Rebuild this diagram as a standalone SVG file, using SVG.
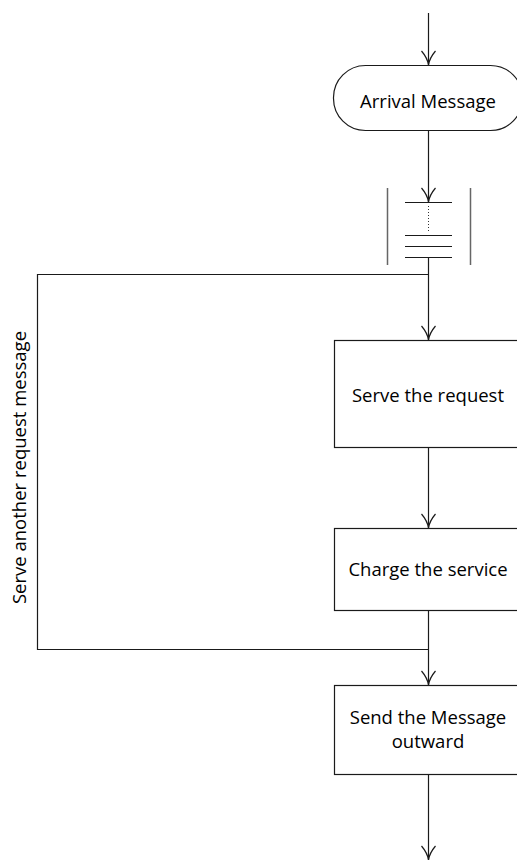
<svg xmlns="http://www.w3.org/2000/svg" width="517" height="862" viewBox="0 0 517 862">
<style>
.ln{fill:none;stroke:#1a1a1a;stroke-width:1.2}
.box{fill:#fff;stroke:#1a1a1a;stroke-width:1.2}
.t{font-family:"Open Sans",Lato,sans-serif;font-size:18.5px;fill:#000;text-anchor:middle}
</style>
<rect width="517" height="862" fill="#fff"/>
<g id="connectors">
<path class="ln" d="M428.5,13 V65"/>
<path class="ln" d="M421.5,51 Q427.5,58 428.5,65 Q429.5,58 435.5,51"/>
<path class="ln" d="M428.5,130 V202"/>
<path class="ln" d="M421.5,188 Q427.5,195 428.5,202 Q429.5,195 435.5,188"/>
<path class="ln" d="M428.5,257 V340"/>
<path class="ln" d="M421.5,326 Q427.5,333 428.5,340 Q429.5,333 435.5,326"/>
<path class="ln" d="M428.5,447 V528"/>
<path class="ln" d="M421.5,514 Q427.5,521 428.5,528 Q429.5,521 435.5,514"/>
<path class="ln" d="M428.5,610 V685"/>
<path class="ln" d="M421.5,671 Q427.5,678 428.5,685 Q429.5,678 435.5,671"/>
<path class="ln" d="M428.5,774 V860"/>
<path class="ln" d="M421.5,846 Q427.5,853 428.5,860 Q429.5,853 435.5,846"/>
<path class="ln" d="M428.5,274.5 H37.5 V649.5 H428.5"/>
</g>
<g id="arrival">
<rect class="box" x="333.5" y="65.5" width="189" height="65" rx="32" ry="32"/>
<text class="t" x="428" y="108">Arrival Message</text>
</g>
<g id="queue">
<path d="M387.5,188 V265 M470.5,188 V265" stroke="#666" stroke-width="1.5" fill="none"/>
<path class="ln" d="M405,202.5 H452 M405,235.5 H452 M405,246.5 H452 M405,257.5 H452"/>
<path d="M428.5,206 V231" stroke="#333" stroke-width="1" stroke-dasharray="1,2" fill="none"/>
</g>
<g id="serve">
<rect class="box" x="334.5" y="340.5" width="188" height="107"/>
<text class="t" x="428" y="402">Serve the request</text>
</g>
<g id="charge">
<rect class="box" x="334.5" y="528.5" width="188" height="82"/>
<text class="t" x="428" y="576">Charge the service</text>
</g>
<g id="send">
<rect class="box" x="334.5" y="685.5" width="188" height="89"/>
<text class="t" x="428" y="724">Send the Message</text>
<text class="t" x="428" y="748">outward</text>
</g>
<g id="loop-label">
<text class="t" transform="translate(25.5,467.5) rotate(-90)">Serve another request message</text>
</g>
</svg>
